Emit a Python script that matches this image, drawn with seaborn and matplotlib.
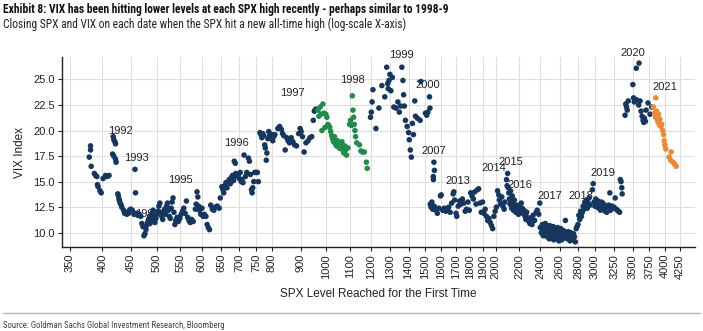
import numpy as np
import pandas as pd
import matplotlib
matplotlib.use("Agg")
import matplotlib.pyplot as plt
import seaborn as sns
from matplotlib import font_manager
from matplotlib.ticker import FixedLocator, NullLocator

# ---- data: SPX level at each new all-time high and the VIX close that day ----
spx_1991_93 = [379, 381, 381, 382, 387, 389, 391, 392, 393, 396, 398, 401, 405, 408, 411,
               418, 419, 421, 422, 417, 419, 422, 423,
               426, 427, 428, 429, 430, 432, 433, 436, 438, 440, 442, 445, 447, 449, 452,
               455, 457, 458, 460, 462, 465, 468]
vix_1991_93 = [17.4, 18.5, 18.1, 16.5, 15.8, 15.6, 15.5, 14.7, 14.5, 14.1, 13.9, 15.3, 15.6, 15.5, 15.6,
               19.4, 19.1, 18.9, 18.7, 17.7, 17.5, 17.2, 16.9,
               13.8, 13.6, 13.3, 13.1, 12.9, 12.7, 12.5, 12.2, 11.9, 12.0, 11.8, 11.9, 12.2, 12.3, 12.2,
               11.8, 16.2, 13.9, 11.9, 11.7, 11.8, 11.6]

spx_1994_95 = [470, 472, 474, 476, 478, 479, 481, 483, 485, 486, 488, 490, 492, 494, 496, 498,
               500, 502, 504, 506, 508, 510, 512, 514, 516, 518, 520, 522, 524, 526, 528, 530,
               532, 534, 536, 538, 540, 543, 546, 549, 552, 555, 558, 561, 564, 567, 570, 573,
               576, 580, 585, 587, 589, 591, 593, 595, 598, 601, 604, 607, 611, 614, 617, 620,
               623, 627, 631, 635, 640, 645, 648]
vix_1994_95 = [10.9, 10.6, 9.7, 9.9, 10.3, 10.7, 11.0, 11.3, 11.6, 10.9, 11.2, 11.9, 12.2, 11.5, 11.0, 11.4,
               11.8, 12.1, 12.6, 12.9, 12.0, 11.6, 11.3, 11.9, 12.3, 11.8, 12.6, 12.9, 12.2, 11.6, 11.4, 12.4,
               13.0, 13.4, 12.0, 10.8, 11.2, 11.5, 11.1, 11.4, 11.8, 12.1, 12.4, 11.9, 13.1, 11.5, 11.2, 11.0,
               11.3, 11.1, 12.3, 12.8, 14.0, 13.5, 12.6, 12.2, 11.8, 12.4, 11.6, 11.8, 11.6, 10.8, 10.5, 10.3,
               12.7, 12.3, 12.2, 12.5, 12.6, 12.4, 13.4]

spx_1996 = [652, 655, 657, 660, 663, 666, 669, 672, 675, 678, 681, 684, 687, 690, 686, 689,
            697, 700, 703, 706, 708, 711, 714, 718, 722, 727, 730, 733, 736, 738, 740, 743,
            746, 750, 754, 757]
vix_1996 = [14.5, 14.2, 13.9, 14.6, 14.9, 14.4, 15.0, 15.2, 14.8, 15.4, 15.6, 15.1, 15.5, 15.8, 17.0, 16.8,
            15.6, 15.3, 15.9, 15.0, 15.2, 14.9, 17.6, 15.5, 15.9, 17.3, 17.0, 15.7, 14.2, 13.9, 14.4, 15.0,
            15.9, 15.9, 15.9, 15.0]

spx_1997 = [762, 765, 768, 771, 774, 777, 779, 782, 784, 787, 790, 793, 796, 800, 803, 806,
            810, 820, 826, 832, 836, 840, 845, 850, 855, 860, 866, 872, 878, 885, 893, 898,
            902, 907, 913, 920, 928, 935, 942, 948, 952, 958]
vix_1997 = [19.8, 19.6, 19.3, 19.7, 19.5, 18.6, 18.3, 17.1, 17.8, 19.2, 19.9, 19.5, 19.3, 19.6, 19.0, 19.4,
            19.6, 20.2, 20.4, 20.1, 19.7, 19.5, 18.1, 19.3, 19.0, 18.8, 19.3, 18.9, 18.6, 18.5, 19.7, 20.2,
            19.9, 19.4, 17.9, 18.8, 19.0, 19.3, 19.4, 21.0, 21.9, 22.1]

spx_1998 = [966, 970, 975, 978, 982, 986, 990, 994, 998, 1002, 1006, 1010, 1014, 1018, 1022, 1026,
            1030, 1034, 1038, 1042, 1046, 1050, 1054, 1058, 1062, 1066, 1070, 1074, 1078, 1082, 1086, 1092,
            1100, 1104, 1108, 1112, 1115, 1118, 1121, 1124, 1127, 1132, 1145, 1152, 1160, 1168, 1178, 1182]
vix_1998 = [22.0, 21.4, 22.3, 21.6, 20.0, 22.6, 21.7, 20.3, 21.6, 21.3, 20.6, 20.5, 20.3, 19.9, 19.5, 19.2,
            18.9, 19.4, 18.7, 18.5, 19.0, 18.8, 18.3, 18.6, 18.2, 18.9, 18.4, 17.8, 18.5, 18.1, 17.6, 18.3,
            20.6, 21.0, 20.5, 23.4, 22.0, 21.3, 20.6, 20.0, 19.4, 18.8, 18.6, 18.0, 17.9, 17.9, 16.9, 16.3]

spx_1999_00 = [1198, 1202, 1206, 1210, 1225, 1240, 1255, 1270, 1280, 1285, 1288, 1292, 1297, 1302, 1310,
               1318, 1330, 1340, 1348, 1355, 1362, 1368, 1372, 1376, 1382, 1392, 1400, 1404, 1410,
               1416, 1422, 1428, 1436, 1440, 1452, 1468, 1472, 1500, 1508, 1515, 1525, 1528]
vix_1999_00 = [21.3, 21.8, 22.8, 24.0, 20.2, 22.2, 24.4, 23.3, 26.2, 24.6, 24.1, 24.9, 25.5, 23.9, 25.2,
               22.3, 22.2, 22.8, 21.8, 22.4, 26.2, 24.9, 23.5, 22.4, 21.0, 20.4, 19.8, 19.1, 18.1,
               17.4, 20.7, 19.6, 22.9, 21.4, 21.2, 21.0, 24.8, 21.7, 21.5, 21.8, 23.3, 22.2]

spx_2007_13 = [1549, 1550, 1553, 1556,
               1530, 1535, 1540, 1545, 1555, 1565, 1575, 1585, 1595, 1600, 1610, 1620, 1630, 1640,
               1650, 1660, 1670, 1680, 1685, 1690, 1700, 1705, 1715, 1725, 1735, 1745, 1755, 1765,
               1775, 1785, 1795, 1805, 1815, 1825, 1835, 1845, 1855, 1865, 1875]
vix_2007_13 = [15.5, 15.2, 16.9, 16.1,
               12.8, 12.5, 13.0, 12.3, 12.6, 12.2, 11.9, 12.4, 13.6, 13.7, 12.2, 12.4, 12.1, 12.3,
               12.5, 12.0, 12.9, 13.8, 14.0, 13.2, 11.9, 11.6, 12.6, 13.1, 12.8, 13.3, 12.9, 12.1,
               12.3, 13.0, 12.2, 13.9, 13.6, 13.3, 14.0, 12.8, 14.2, 14.3, 12.9]

spx_2014_16 = [1885, 1895, 1905, 1915, 1925, 1935, 1945, 1955, 1965, 1975, 1985, 1995, 2005, 2015,
               2025, 2030, 2040, 2050, 2060, 2070, 2075,
               2090, 2095, 2100, 2105, 2110, 2115, 2120, 2125, 2130, 2135, 2140, 2145, 2150, 2158,
               2165, 2172, 2180, 2188, 2195, 2205, 2212, 2220, 2228, 2236, 2245, 2255, 2262, 2270,
               2280, 2290, 2300, 2310, 2320, 2330, 2345, 2360, 2370, 2385, 2395]
vix_2014_16 = [12.0, 13.0, 11.9, 12.3, 11.6, 11.2, 11.4, 11.0, 10.7, 10.4, 11.6, 12.1, 12.5, 14.1,
               13.7, 13.2, 12.8, 13.5, 12.6, 12.3, 13.0,
               15.2, 14.6, 15.8, 14.4, 13.9, 13.3, 12.8, 14.1, 13.0, 12.4, 13.6, 12.9, 12.2, 13.2,
               12.6, 12.0, 12.7, 12.3, 11.8, 12.5, 12.0, 12.9, 12.4, 11.9, 12.2, 11.6, 11.3, 12.0,
               11.5, 11.1, 10.9, 11.4, 10.8, 11.7, 11.2, 12.0, 12.2, 11.8, 12.9]

spx_2017_18 = [2400, 2410, 2420, 2430, 2440, 2450, 2455, 2460, 2465, 2470, 2475, 2480, 2490, 2495,
               2500, 2510, 2515, 2520, 2530, 2535, 2540, 2550, 2555, 2560, 2570, 2575, 2580, 2590,
               2595, 2600, 2610, 2620, 2630, 2640, 2650, 2660, 2670, 2680, 2690, 2700, 2710, 2720,
               2730, 2740, 2750, 2760, 2770, 2780, 2790, 2800,
               2810, 2820, 2830, 2840, 2850, 2860, 2870, 2880, 2890, 2900, 2910, 2920, 2930, 2940]
vix_2017_18 = [10.5, 10.0, 10.8, 9.7, 10.3, 10.9, 9.9, 10.2, 10.6, 9.6, 10.1, 10.4, 9.4, 10.7,
               9.9, 10.2, 9.5, 10.0, 10.6, 9.3, 9.8, 10.3, 9.6, 10.1, 9.4, 10.5, 9.8, 9.2,
               10.0, 9.6, 10.4, 9.3, 9.9, 10.2, 9.5, 11.2, 9.8, 9.4, 10.1, 9.7, 9.2, 10.0,
               9.5, 9.3, 9.9, 9.6, 9.1, 10.4, 10.6, 10.8,
               11.7, 11.3, 12.1, 11.6, 12.0, 12.6, 12.3, 13.0, 12.8, 13.2, 12.4, 12.9, 13.4, 12.7]

spx_2019_20 = [2970, 2980, 2990, 3000, 3010, 3020, 3030, 3040, 3050, 3060, 3070, 3080, 3090, 3100,
               3110, 3120, 3130, 3140, 3150, 3160, 3175, 3190, 3200, 3215, 3230, 3245, 3260, 3275,
               3290, 3305, 3320, 3330, 3340, 3350, 3355,
               3395, 3405, 3415, 3425, 3440, 3505, 3515, 3525, 3555, 3595, 3560, 3590, 3610, 3625,
               3640, 3655, 3665, 3675, 3690, 3700, 3730, 3760, 3785]
vix_2019_20 = [14.2, 14.8, 13.0, 12.6, 13.3, 12.9, 12.5, 13.1, 12.4, 12.8, 12.2, 13.0, 12.6, 12.9,
               12.3, 12.7, 12.1, 12.5, 12.0, 12.6, 12.7, 13.9, 12.2, 12.6, 12.4, 12.5, 13.4, 12.3,
               12.2, 12.1, 12.0, 15.2, 15.0, 14.4, 13.8,
               21.5, 22.6, 22.3, 22.0, 22.9, 24.5, 23.2, 22.8, 26.1, 26.6, 23.0, 22.5, 22.9, 21.9,
               21.4, 21.0, 20.8, 21.2, 20.9, 22.0, 22.7, 21.6, 22.3]

spx_2021 = [3810, 3830, 3845, 3850, 3860, 3870, 3880, 3895, 3905, 3915, 3930, 3945, 3960,
            3975, 3985, 3995, 4010, 4065, 4090, 4100, 4130, 4160, 4185]
vix_2021 = [22.3, 21.7, 21.3, 23.2, 21.9, 21.5, 20.9, 21.6, 20.6, 21.1, 20.4, 20.6, 20.0,
            19.6, 19.0, 18.6, 18.2, 17.4, 17.1, 17.9, 16.9, 16.7, 16.5]

# year annotations: (label, SPX, VIX) at the text centre
year_labels = ["1992", "1993", "1994", "1995", "1996", "1997", "1998", "1999", "2000", "2007",
               "2013", "2014", "2015", "2016", "2017", "2018", "2019", "2020", "2021"]
year_spx = [431, 460, 481, 550, 691, 870, 1112, 1361, 1517, 1555,
            1716, 1981, 2130, 2210, 2493, 2839, 3103, 3510, 3996]
year_vix = [20.0, 17.3, 11.85, 15.15, 18.75, 23.7, 24.95, 27.35, 24.45, 18.0,
            15.1, 16.35, 16.9, 14.65, 13.6, 13.6, 15.8, 27.6, 24.3]

x_ticks = [350, 400, 450, 500, 550, 600, 650, 700, 750, 800, 900, 1000, 1100, 1200, 1300, 1400,
           1500, 1600, 1700, 1800, 1900, 2000, 2200, 2400, 2600, 2800, 3000, 3250, 3500, 3750,
           4000, 4250]
y_ticks = [10.0, 12.5, 15.0, 17.5, 20.0, 22.5, 25.0]

# ---- assemble one tidy frame ----
blue_spx = spx_1991_93 + spx_1994_95 + spx_1996 + spx_1997 + spx_1999_00 + spx_2007_13 \
    + spx_2014_16 + spx_2017_18 + spx_2019_20
blue_vix = vix_1991_93 + vix_1994_95 + vix_1996 + vix_1997 + vix_1999_00 + vix_2007_13 \
    + vix_2014_16 + vix_2017_18 + vix_2019_20
df = pd.concat([
    pd.DataFrame({"spx": blue_spx, "vix": blue_vix, "grp": "other"}),
    pd.DataFrame({"spx": spx_1998, "vix": vix_1998, "grp": "1998"}),
    pd.DataFrame({"spx": spx_2021, "vix": vix_2021, "grp": "2021"}),
], ignore_index=True)

palette = {"other": "#15375f", "1998": "#1f8c4a", "2021": "#ec8a32"}

sns.set_theme(style="white")
plt.rcParams["font.family"] = ["Liberation Sans", "DejaVu Sans"]


def narrow_font():
    """Pick an installed narrow/condensed sans family for the header and footer."""
    names = {f.name for f in font_manager.fontManager.ttflist}
    for fam in ["Liberation Sans Narrow", "Roboto Condensed", "Open Sans Condensed",
                "DejaVu Sans Condensed", "Noto Sans Condensed"]:
        if fam in names:
            return fam, "normal"
    condensed = [f for f in font_manager.fontManager.ttflist
                 if f.stretch in ("condensed", "semi-condensed") and "Sans" in f.name]
    if condensed:
        return condensed[0].name, "condensed"
    return "DejaVu Sans", "normal"


nfam, nstretch = narrow_font()

fig = plt.figure(figsize=(7.03, 3.31), dpi=100)
W, H = 703, 331
ax = fig.add_axes([62 / W, (H - 247) / H, (695 - 62) / W, (247 - 57) / H])

sns.scatterplot(data=df, x="spx", y="vix", hue="grp", palette=palette, s=16,
                linewidth=0, legend=False, ax=ax, zorder=3)

ax.set_xscale("log")
ax.set_xlim(339, 4520)
ax.set_ylim(8.6, 27.2)
ax.xaxis.set_major_locator(FixedLocator(x_ticks))
ax.xaxis.set_minor_locator(NullLocator())
ax.set_xticklabels([str(t) for t in x_ticks], rotation=90, fontsize=8, color="#222222")
ax.set_yticks(y_ticks)
ax.set_yticklabels([f"{t:.1f}" for t in y_ticks], fontsize=8, color="#222222")
ax.grid(True, color="#dedede", linewidth=0.8, zorder=0)
ax.set_axisbelow(True)
for side in ["top", "right"]:
    ax.spines[side].set_visible(False)
for side in ["left", "bottom"]:
    ax.spines[side].set_color("#222222")
    ax.spines[side].set_linewidth(1.0)
ax.tick_params(axis="both", which="major", length=3, width=0.8, color="#222222", pad=2,
               bottom=True, left=True)

ax.set_xlabel("SPX Level Reached for the First Time", fontsize=8.5, color="#222222", labelpad=7)
ax.set_ylabel("VIX Index", fontsize=8.5, color="#222222", labelpad=5)

for lab, xs, ys in zip(year_labels, year_spx, year_vix):
    ax.text(xs, ys, lab, fontsize=8, color="#222222", ha="center", va="center", zorder=2)

title = fig.text(3 / W, 1 - 9 / H,
                 "Exhibit 8: VIX has been hitting lower levels at each SPX high recently - perhaps similar to 1998-9",
                 fontsize=8.3, fontweight="bold", family=[nfam, "DejaVu Sans"], fontstretch=nstretch,
                 va="center", ha="left", color="#111111")
subtitle = fig.text(3 / W, 1 - 24 / H,
                    "Closing SPX and VIX on each date when the SPX hit a new all-time high (log-scale X-axis)",
                    fontsize=8.3, family=[nfam, "DejaVu Sans"], fontstretch=nstretch,
                    va="center", ha="left", color="#222222")

fig.add_artist(plt.Line2D([3 / W, 700 / W], [1 - 313 / H, 1 - 313 / H],
                          color="#b5b5b5", linewidth=1.0))
source = fig.text(3 / W, 1 - 325 / H, "Source: Goldman Sachs Global Investment Research, Bloomberg",
                  fontsize=6.3, family=[nfam, "DejaVu Sans"], fontstretch=nstretch,
                  va="center", ha="left", color="#444444")

# keep the header/footer to their set widths whatever narrow face was found
fig.canvas.draw()
renderer = fig.canvas.get_renderer()
for txt, target in [(title, 447), (subtitle, 424), (source, 252)]:
    w = txt.get_window_extent(renderer).width
    if w > target * 1.03:
        txt.set_fontsize(txt.get_fontsize() * target / w)

fig.savefig("out.png", dpi=100)
